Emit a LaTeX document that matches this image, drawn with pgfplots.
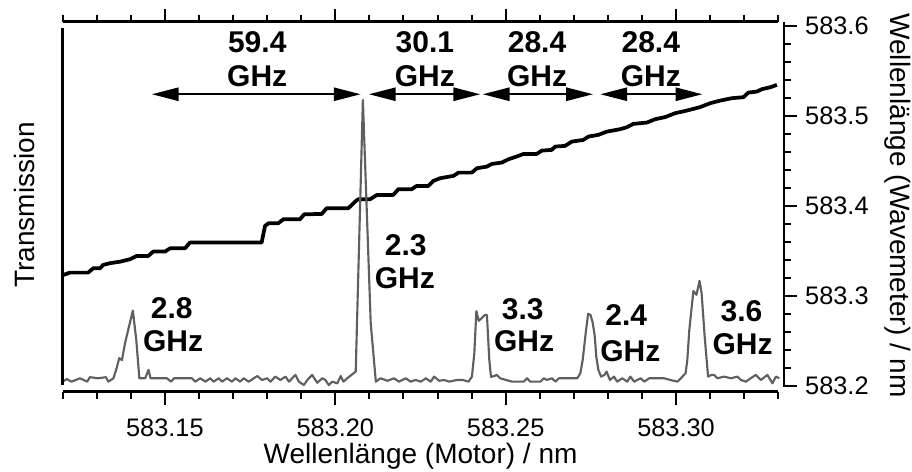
\documentclass[border=0pt]{standalone}
\usepackage{pgfplots}
\pgfplotsset{compat=1.18}
\usepackage{fontspec}
\setmainfont{Liberation Sans}
\usetikzlibrary{arrows.meta}

\definecolor{trace}{RGB}{95,95,95}

\pgfplotstableread{
lambda wm
583.1202 583.3231
583.1221 583.3257
583.1275 583.3257
583.1290 583.3306
583.1310 583.3306
583.1319 583.3343
583.1339 583.3362
583.1369 583.3379
583.1398 583.3406
583.1418 583.3443
583.1452 583.3443
583.1466 583.3491
583.1501 583.3491
583.1516 583.3528
583.1560 583.3528
583.1574 583.3591
583.1785 583.3591
583.1795 583.3776
583.1805 583.3806
583.1834 583.3806
583.1849 583.3851
583.1898 583.3851
583.1910 583.3905
583.1962 583.3910
583.1976 583.3973
583.2040 583.3973
583.2060 583.4047
583.2069 583.4073
583.2104 583.4073
583.2124 583.4121
583.2172 583.4121
583.2187 583.4185
583.2226 583.4185
583.2241 583.4221
583.2275 583.4221
583.2290 583.4277
583.2310 583.4307
583.2349 583.4333
583.2364 583.4369
583.2403 583.4369
583.2418 583.4418
583.2447 583.4436
583.2462 583.4466
583.2491 583.4481
583.2511 583.4518
583.2540 583.4555
583.2555 583.4577
583.2594 583.4577
583.2609 583.4614
583.2638 583.4622
583.2648 583.4659
583.2677 583.4666
583.2697 583.4714
583.2731 583.4733
583.2746 583.4770
583.2775 583.4789
583.2800 583.4825
583.2839 583.4852
583.2859 583.4874
583.2878 583.4911
583.2918 583.4926
583.2942 583.4963
583.2971 583.4986
583.3001 583.5030
583.3035 583.5059
583.3074 583.5097
583.3104 583.5141
583.3133 583.5170
583.3168 583.5197
583.3202 583.5208
583.3216 583.5259
583.3241 583.5270
583.3256 583.5297
583.3281 583.5319
583.3300 583.5345
}\wavemeter

\pgfplotstableread{
lambda T
583.1200 -0.006
583.1212 0.003
583.1226 -0.006
583.1251 0.006
583.1272 -0.006
583.1280 0.010
583.1304 0.006
583.1327 0.010
583.1334 -0.006
583.1349 0.006
583.1359 0.045
583.1366 0.078
583.1374 0.071
583.1383 0.131
583.1398 0.208
583.1406 0.248
583.1416 0.143
583.1425 0.006
583.1442 0.006
583.1452 0.036
583.1458 0.006
583.1486 0.006
583.1506 0.006
583.1518 -0.006
583.1527 0.006
583.1551 0.006
583.1579 0.006
583.1589 -0.006
583.1604 0.006
583.1619 -0.006
583.1633 0.006
583.1643 -0.006
583.1658 0.006
583.1668 -0.006
583.1682 0.006
583.1697 -0.006
583.1707 0.006
583.1721 -0.006
583.1731 0.006
583.1746 -0.006
583.1771 0.014
583.1785 0.000
583.1800 0.006
583.1810 -0.006
583.1824 0.012
583.1839 0.000
583.1854 0.012
583.1864 -0.006
583.1883 0.018
583.1893 -0.006
583.1908 -0.018
583.1918 0.000
583.1932 0.018
583.1947 -0.010
583.1962 0.006
583.1971 0.000
583.1981 -0.018
583.1991 -0.006
583.2006 -0.012
583.2016 0.014
583.2024 -0.006
583.2035 0.006
583.2060 0.030
583.2081 1.000
583.2104 0.202
583.2119 -0.006
583.2133 0.006
583.2153 -0.003
583.2172 0.006
583.2187 -0.006
583.2207 0.006
583.2221 -0.006
583.2236 0.000
583.2251 -0.006
583.2266 0.006
583.2280 -0.006
583.2290 0.012
583.2305 -0.003
583.2319 0.000
583.2334 -0.006
583.2357 0.000
583.2374 0.000
583.2391 -0.006
583.2401 0.012
583.2408 0.095
583.2414 0.246
583.2421 0.211
583.2430 0.221
583.2439 0.232
583.2445 0.232
583.2452 0.071
583.2457 0.011
583.2466 0.014
583.2474 0.018
583.2484 0.006
583.2501 0.000
583.2519 -0.006
583.2533 -0.006
583.2553 -0.006
583.2563 0.006
583.2572 -0.006
583.2586 -0.006
583.2602 -0.006
583.2612 0.006
583.2621 0.000
583.2636 0.006
583.2646 -0.006
583.2656 0.006
583.2671 0.006
583.2692 0.006
583.2710 0.006
583.2719 0.024
583.2726 0.071
583.2736 0.179
583.2742 0.236
583.2749 0.232
583.2755 0.207
583.2761 0.161
583.2766 0.083
583.2772 0.036
583.2780 0.012
583.2790 0.018
583.2796 0.030
583.2806 0.000
583.2818 0.012
583.2827 -0.006
583.2842 0.006
583.2857 -0.006
583.2866 0.012
583.2877 -0.006
583.2896 0.006
583.2907 -0.006
583.2921 0.006
583.2942 0.006
583.2965 0.006
583.2983 0.000
583.3004 -0.006
583.3014 0.006
583.3028 0.024
583.3033 0.071
583.3039 0.179
583.3045 0.250
583.3051 0.318
583.3060 0.304
583.3069 0.354
583.3075 0.310
583.3084 0.155
583.3094 0.012
583.3104 0.018
583.3112 0.018
583.3121 0.006
583.3141 0.012
583.3161 0.006
583.3180 0.012
583.3190 0.000
583.3205 -0.006
583.3219 0.006
583.3234 0.018
583.3249 0.000
583.3268 0.018
583.3283 -0.012
583.3293 0.012
583.3303 0.006
}\transmission

\begin{document}
\begin{tikzpicture}
\useasboundingbox (0,0) rectangle (684pt,353.25pt);

% right axis: wavemeter reading
\begin{axis}[
  at={(47pt,59.5pt)}, anchor=south west,
  scale only axis, width=541pt, height=277.5pt,
  xmin=583.12, xmax=583.3321,
  ymin=583.19333, ymax=583.60478,
  clip=false,
  axis x line=none,
  axis y line*=right,
  y axis line style={draw=none},
  ytick={583.2,583.3,583.4,583.5,583.6},
  minor ytick={583.22,583.24,583.26,583.28,583.32,583.34,583.36,583.38,583.42,583.44,583.46,583.48,583.52,583.54,583.56,583.58},
  tick align=outside,
  major tick length=9.75pt, minor tick length=5.25pt,
  tick style={black, line width=1.5pt},
  yticklabel pos=right,
  y tick label style={font=\fontsize{19}{21}\selectfont, anchor=west, inner sep=0pt, xshift=6pt,
    /pgf/number format/fixed, /pgf/number format/fixed zerofill,
    /pgf/number format/precision=1, /pgf/number format/1000 sep={},
    /pgf/number format/assume math mode=true},
]
\addplot[black, line width=2.8pt, line join=round] table[x=lambda, y=wm] {\wavemeter};
\draw[line width=1.9pt, black] (rel axis cs:1,0.0135) -- (rel axis cs:1,1);
\end{axis}

% transmission trace and motor wavelength axis
\begin{axis}[
  at={(47pt,59.5pt)}, anchor=south west,
  scale only axis, width=536.7pt, height=277.5pt,
  xmin=583.12, xmax=583.33,
  ymin=-0.0418, ymax=1.2796,
  clip=false,
  axis x line=box, axis y line=none,
  x axis line style={line width=1.9pt, black},
  xtick={583.15,583.20,583.25,583.30},
  minor xtick={583.12,583.13,583.14,583.16,583.17,583.18,583.19,583.21,583.22,583.23,583.24,583.26,583.27,583.28,583.29,583.31,583.32,583.33},
  tick align=outside,
  major tick length=9.75pt, minor tick length=5.25pt,
  tick style={black, line width=1.5pt},
  x tick label style={font=\fontsize{19}{21}\selectfont, anchor=base, inner sep=0pt, yshift=-24pt,
    /pgf/number format/fixed, /pgf/number format/fixed zerofill,
    /pgf/number format/precision=2, /pgf/number format/1000 sep={},
    /pgf/number format/assume math mode=true},
]
\addplot[trace, line width=1.6pt, line join=round] table[x=lambda, y=T] {\transmission};
\draw[line width=1.9pt, black] (rel axis cs:0,0.018) -- (rel axis cs:0,0.982);

% spacing arrows between neighbouring resonances
\tikzset{gap/.style={line width=1.2pt, black, {Triangle[length=20pt,width=10pt]}-{Triangle[length=20pt,width=10pt]}}}
\draw[gap] (axis cs:583.1462,1.0204) -- (axis cs:583.2074,1.0204);
\draw[gap] (axis cs:583.2099,1.0204) -- (axis cs:583.2425,1.0204);
\draw[gap] (axis cs:583.2433,1.0204) -- (axis cs:583.2756,1.0204);
\draw[gap] (axis cs:583.2778,1.0204) -- (axis cs:583.3077,1.0204);

\tikzset{ann/.style={font=\fontsize{22.5}{25}\selectfont\bfseries, inner sep=0pt}}
\node[ann] at (axis cs:583.1771,1.2046) {59.4};
\node[ann] at (axis cs:583.1771,1.0857) {GHz};
\node[ann] at (axis cs:583.2263,1.2046) {30.1};
\node[ann] at (axis cs:583.2263,1.0857) {GHz};
\node[ann] at (axis cs:583.2592,1.2046) {28.4};
\node[ann] at (axis cs:583.2592,1.0857) {GHz};
\node[ann] at (axis cs:583.2926,1.2046) {28.4};
\node[ann] at (axis cs:583.2926,1.0857) {GHz};

% linewidths of the single resonances
\node[ann] at (axis cs:583.1520,0.257) {2.8};
\node[ann] at (axis cs:583.1524,0.139) {GHz};
\node[ann] at (axis cs:583.2207,0.482) {2.3};
\node[ann] at (axis cs:583.2204,0.364) {GHz};
\node[ann] at (axis cs:583.2550,0.254) {3.3};
\node[ann] at (axis cs:583.2554,0.139) {GHz};
\node[ann] at (axis cs:583.2854,0.232) {2.4};
\node[ann] at (axis cs:583.2866,0.104) {GHz};
\node[ann] at (axis cs:583.3192,0.244) {3.6};
\node[ann] at (axis cs:583.3195,0.129) {GHz};
\end{axis}

% axis titles
\tikzset{lab/.style={font=\fontsize{21}{24}\selectfont, inner sep=0pt}}
\node[lab, anchor=base] at (315.4pt,6pt) {Wellenlänge (Motor) / nm};
\node[lab, rotate=90] at (18.4pt,199.5pt) {Transmission};
\node[lab, rotate=-90] at (673pt,199pt) {Wellenlänge (Wavemeter) / nm};
\end{tikzpicture}
\end{document}
